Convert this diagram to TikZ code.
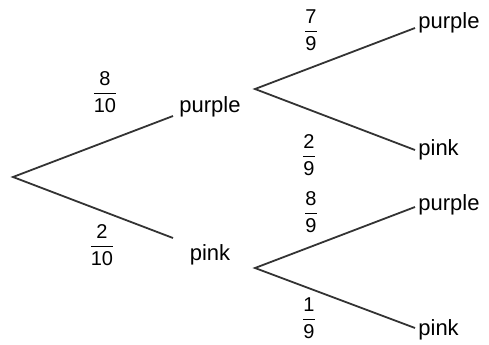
\documentclass[tikz,border=0pt]{standalone}
\usepackage{fontspec}
\usepackage{amsmath}
\setmainfont{Liberation Sans}

\begin{document}
\begin{tikzpicture}[
    x=0.5pt, y=-0.5pt,
    branch/.style={line width=0.9pt, draw=black!80},
    outcome/.style={font=\fontsize{11}{13}\selectfont, inner sep=0pt},
    prob/.style={font=\fontsize{10}{12}\selectfont, inner sep=0pt},
]
    \useasboundingbox (0,0) rectangle (489,344);

    % first draw
    \coordinate (root) at (13,177);
    \coordinate (purEnd) at (173,116);
    \coordinate (pinkEnd) at (173,238);
    \node[outcome] (pur) at (210,107) {purple};
    \node[outcome] (pink) at (210,255) {pink};

    % second draw
    \coordinate (purRoot) at (255,89);
    \coordinate (pinkRoot) at (255,268);
    \coordinate (purPurEnd) at (415,28);
    \coordinate (purPinkEnd) at (415,150);
    \coordinate (pinkPurEnd) at (415,207);
    \coordinate (pinkPinkEnd) at (415,328);
    \node[outcome, anchor=west] (purPur) at (418,23) {purple};
    \node[outcome, anchor=west] (purPink) at (418,150) {pink};
    \node[outcome, anchor=west] (pinkPur) at (418,205) {purple};
    \node[outcome, anchor=west] (pinkPink) at (418,330) {pink};

    \draw[branch] (purEnd) -- (root) -- (pinkEnd);
    \draw[branch] (purPurEnd) -- (purRoot) -- (purPinkEnd);
    \draw[branch] (pinkPurEnd) -- (pinkRoot) -- (pinkPinkEnd);

    % probabilities
    \node[prob] (pPur) at (105,92) {$\dfrac{\text{8}}{\text{10}}$};
    \node[prob] (pPink) at (102,245) {$\dfrac{\text{2}}{\text{10}}$};
    \node[prob] (pPurPur) at (311,30) {$\dfrac{\text{7}}{\text{9}}$};
    \node[prob] (pPurPink) at (309,155) {$\dfrac{\text{2}}{\text{9}}$};
    \node[prob] (pPinkPur) at (311,212) {$\dfrac{\text{8}}{\text{9}}$};
    \node[prob] (pPinkPink) at (309,318) {$\dfrac{\text{1}}{\text{9}}$};
\end{tikzpicture}
\end{document}
